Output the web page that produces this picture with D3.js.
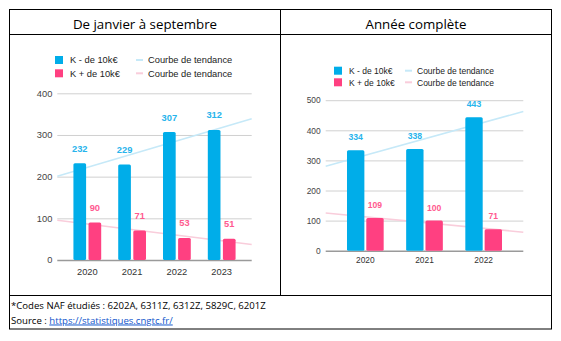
<!DOCTYPE html>
<html>
<head>
<meta charset="utf-8">
<script src="https://cdn.jsdelivr.net/npm/d3@7"></script>
<style>
  body { margin: 0; background: #fff; }
  svg { display: block; }
</style>
</head>
<body>
<script>
// Données : créations par tranche de CA (janvier-septembre / année complète)
const annees9mois = ["2020", "2021", "2022", "2023"];
const moins10k9mois = [232, 229, 307, 312];
const plus10k9mois = [90, 71, 53, 51];
const ticks9mois = [0, 100, 200, 300, 400];

const anneesCompletes = ["2020", "2021", "2022"];
const moins10kAnnee = [334, 338, 443];
const plus10kAnnee = [109, 100, 71];
const ticksAnnee = [0, 100, 200, 300, 400, 500];

const titres = ["De janvier à septembre", "Année complète"];
const series = ["K - de 10k€", "K + de 10k€"];
const libelleTendance = "Courbe de tendance";
const noteCodes = "*Codes NAF étudiés : 6202A, 6311Z, 6312Z, 5829C, 6201Z";
const noteSource = "Source : ";
const lienSource = "https://statistiques.cngtc.fr/";

const bleu = "#00ade9", rose = "#ff4081";
const bleuLabel = "#27b4ec", roseLabel = "#ff5a8f";
const bleuTendance = "#c6e9f8", roseTendance = "#f9cddb";
const police = "'Liberation Sans', Arial, sans-serif";
const policeTable = "'Open Sans', 'Noto Sans', sans-serif";

const W = 561, H = 341;
const svg = d3.select("body").append("svg")
  .attr("width", W).attr("height", H);

// tableau : bordures
const tab = svg.append("g").attr("fill", "none").attr("stroke", "#000").attr("stroke-width", 1);
tab.append("rect").attr("x", 9.5).attr("y", 9.5).attr("width", 542).attr("height", 319.5);
tab.append("line").attr("x1", 9.5).attr("x2", 551.5).attr("y1", 34.5).attr("y2", 34.5);
tab.append("line").attr("x1", 9.5).attr("x2", 551.5).attr("y1", 295.5).attr("y2", 295.5);
tab.append("line").attr("x1", 280.5).attr("x2", 280.5).attr("y1", 9.5).attr("y2", 295.5);

svg.selectAll("text.titre").data(titres).join("text")
  .attr("class", "titre")
  .attr("x", (d, i) => i === 0 ? 145 : 416)
  .attr("y", 28.5)
  .attr("text-anchor", "middle")
  .style("font-family", policeTable)
  .style("font-size", "13.3px")
  .attr("fill", "#000")
  .text(d => d);

// note de bas de tableau
svg.append("text")
  .attr("x", 11).attr("y", 309)
  .style("font-family", policeTable).style("font-size", "9.6px")
  .text(noteCodes);
const src = svg.append("text")
  .attr("x", 11).attr("y", 323.5)
  .style("font-family", policeTable).style("font-size", "9.6px");
src.append("tspan").text(noteSource);
src.append("tspan").attr("fill", "#1155cc").attr("text-decoration", "underline").text(lienSource);

// régression linéaire sur l'indice de l'année
function tendance(valeurs) {
  const n = valeurs.length;
  const mx = (n - 1) / 2, my = d3.mean(valeurs);
  let num = 0, den = 0;
  valeurs.forEach((v, i) => { num += (i - mx) * (v - my); den += (i - mx) * (i - mx); });
  const pente = num / den;
  return i => my + pente * (i - mx);
}

function graphique(o) {
  const g = svg.append("g");

  const x = d3.scaleBand().domain(o.annees).range([o.gauche, o.droite])
    .paddingInner(0.38).paddingOuter(0.36);
  const xs = d3.scaleBand().domain([0, 1]).range([0, x.bandwidth()]).paddingInner(o.ecart);
  const y = d3.scaleLinear().domain([0, d3.max(o.ticks)]).range([o.bas, o.haut]);

  // légende
  const leg = g.append("g").style("font-family", police).style("font-size", o.tailleLegende + "px").attr("fill", "#222");
  [bleu, rose].forEach((c, i) => {
    const ly = o.legendeY + i * o.legendePas;
    leg.append("rect").attr("x", o.legendeX).attr("y", ly - 4).attr("width", 8).attr("height", 8).attr("fill", c);
    leg.append("text").attr("x", o.legendeX + 15).attr("y", ly + 3.2).text(series[i]);
    leg.append("line").attr("x1", o.tendanceX).attr("x2", o.tendanceX + 7)
      .attr("y1", ly).attr("y2", ly)
      .attr("stroke", i === 0 ? bleuTendance : roseTendance).attr("stroke-width", 2);
    leg.append("text").attr("x", o.tendanceX + 12).attr("y", ly + 3.2).text(libelleTendance);
  });

  // axe Y et quadrillage
  const ay = g.append("g").attr("transform", `translate(${o.gauche},0)`)
    .call(d3.axisLeft(y).tickValues(o.ticks).tickSize(-(o.droite - o.gauche)).tickPadding(5));
  ay.select(".domain").remove();
  ay.selectAll(".tick line").attr("stroke", "#d0d0d0");
  ay.selectAll(".tick text").attr("fill", "#444").style("font-family", police).style("font-size", o.tailleAxe + "px");
  ay.selectAll(".tick").filter(d => d === 0).select("line").attr("stroke", "#9a9a9a").attr("stroke-width", 1.4);

  // axe X
  const ax = g.append("g").attr("transform", `translate(0,${o.bas})`)
    .call(d3.axisBottom(x).tickSize(0).tickPadding(o.decalAnnee));
  ax.select(".domain").remove();
  ax.selectAll(".tick text").attr("fill", "#333").style("font-family", police).style("font-size", o.tailleAxe + "px");

  // courbes de tendance, prolongées jusqu'aux bords du graphique
  const xi = d3.scaleLinear().domain([0, o.annees.length - 1])
    .range([x(o.annees[0]) + x.bandwidth() / 2, x(o.annees[o.annees.length - 1]) + x.bandwidth() / 2]);
  [[o.moins, bleuTendance], [o.plus, roseTendance]].forEach(([vals, c]) => {
    const f = tendance(vals);
    const i0 = xi.invert(o.gauche), i1 = xi.invert(o.droite);
    g.append("line")
      .attr("x1", o.gauche).attr("y1", y(f(i0)))
      .attr("x2", o.droite).attr("y2", y(f(i1)))
      .attr("stroke", c).attr("stroke-width", 1.5);
  });

  // barres et étiquettes de valeur
  [[o.moins, bleu, bleuLabel], [o.plus, rose, roseLabel]].forEach(([vals, c, cl], s) => {
    g.append("g").selectAll("rect").data(vals).join("rect")
      .attr("x", (d, i) => x(o.annees[i]) + xs(s))
      .attr("y", d => y(d))
      .attr("width", xs.bandwidth())
      .attr("height", d => o.bas - y(d))
      .attr("rx", 1.5)
      .attr("fill", c);
    g.append("g").selectAll("text").data(vals).join("text")
      .attr("x", (d, i) => x(o.annees[i]) + xs(s) + xs.bandwidth() / 2)
      .attr("y", d => y(d) - o.decalValeur)
      .attr("text-anchor", "middle")
      .attr("fill", cl)
      .style("font-family", police).style("font-size", o.tailleValeur + "px").style("font-weight", "bold")
      .text(d => d);
  });
}

graphique({
  annees: annees9mois, moins: moins10k9mois, plus: plus10k9mois, ticks: ticks9mois,
  gauche: 57.3, droite: 251.7, bas: 260, haut: 93.3, ecart: 0.16,
  legendeX: 55, legendeY: 60, legendePas: 13.3, tendanceX: 136,
  tailleLegende: 9.3, tailleAxe: 9.3, tailleValeur: 9.3, decalValeur: 11.5, decalAnnee: 8
});

graphique({
  annees: anneesCompletes, moins: moins10kAnnee, plus: plus10kAnnee, ticks: ticksAnnee,
  gauche: 325.7, droite: 523.3, bas: 250.7, haut: 100.2, ecart: 0.1,
  legendeX: 334, legendeY: 70.7, legendePas: 11.6, tendanceX: 405,
  tailleLegende: 8.5, tailleAxe: 8.4, tailleValeur: 8.6, decalValeur: 10, decalAnnee: 6.5
});
</script>
</body>
</html>
